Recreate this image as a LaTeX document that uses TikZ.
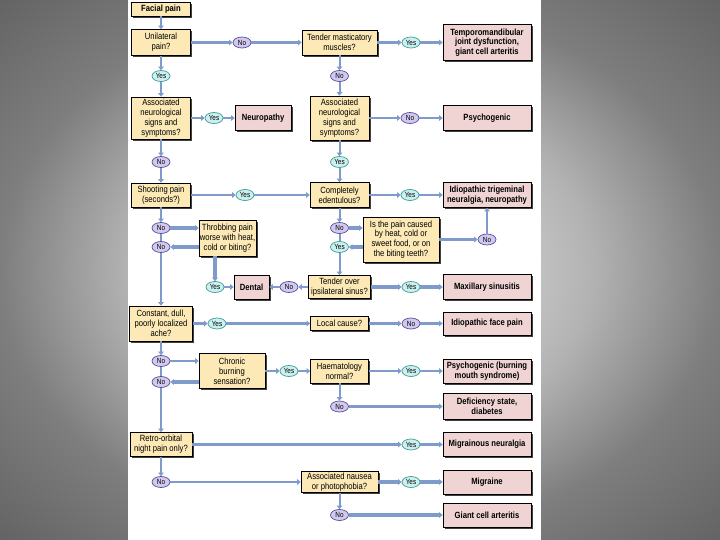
\documentclass[tikz,border=0pt]{standalone}
\usepackage{fontspec}
\setmainfont{Liberation Sans}[FakeStretch=0.85]
\usetikzlibrary{shapes.geometric,arrows.meta,shadows}
\definecolor{qfill}{HTML}{FCE9B6}
\definecolor{rfill}{HTML}{F0D4D4}
\definecolor{yfill}{HTML}{CBF0EE}
\definecolor{ydraw}{HTML}{3E9E98}
\definecolor{nfill}{HTML}{D2CAEE}
\definecolor{ndraw}{HTML}{5A4C9C}
\definecolor{lnk}{HTML}{7F9BCB}
\definecolor{bga}{HTML}{D2D2D2}
\definecolor{bgb}{HTML}{C0C0C0}
\definecolor{bgc}{HTML}{B2B2B2}
\definecolor{bgd}{HTML}{7E7E7E}
\definecolor{bge}{HTML}{626262}
\pgfdeclareradialshading{bgshade}{\pgfpoint{0bp}{0bp}}{color(0bp)=(bga); color(12.6bp)=(bgb); color(16.2bp)=(bgc); color(25bp)=(bgd); color(36bp)=(bge); color(50bp)=(bge)}
\begin{document}
\begin{tikzpicture}[x=1pt,y=-1pt,
  box/.style={draw=black, line width=0.7pt, align=center, inner sep=0.5pt,
    drop shadow={shadow xshift=1.8pt, shadow yshift=-1.8pt, fill=black!75, opacity=1}},
  q/.style={box, fill=qfill, font=\fontsize{9}{9.8}\selectfont},
  r/.style={box, fill=rfill, font=\fontsize{9}{9.8}\selectfont\bfseries},
  yes/.style={ellipse, draw=ydraw, fill=yfill, line width=0.7pt, minimum width=18pt, minimum height=11pt, inner sep=0pt, font=\fontsize{7.5}{7.5}\selectfont},
  no/.style={ellipse, draw=ndraw, fill=nfill, line width=0.7pt, minimum width=18pt, minimum height=11pt, inner sep=0pt, font=\fontsize{7.5}{7.5}\selectfont},
  lk/.style={draw=lnk, -{Triangle[length=3.5pt,width=5.5pt]}},
  thn/.style={lk, line width=2pt},
  med/.style={lk, line width=2.8pt},
  thk/.style={lk, line width=3.8pt},
  plain/.style={draw=lnk, line width=2pt}
]
\shade[shading=bgshade] (0,0) rectangle (720,540);
\useasboundingbox (0,0) rectangle (720,540);
\fill[white] (128,0) rectangle (541,540);

% question boxes
\node[q, font=\fontsize{9}{9.8}\selectfont\bfseries, minimum width=59pt, minimum height=14pt] (fp) at (161,9) {Facial pain};
\node[q, minimum width=59pt, minimum height=26pt] (uni) at (161,42.5) {Unilateral\\pain?};
\node[q, minimum width=75pt, minimum height=25pt] (tmm) at (339.5,42.5) {Tender masticatory\\muscles?};
\node[q, minimum width=59pt, minimum height=42pt] (an1) at (161,118) {Associated\\neurological\\signs and\\symptoms?};
\node[q, minimum width=59pt, minimum height=44pt] (an2) at (339.5,118) {Associated\\neurological\\signs and\\symptoms?};
\node[q, minimum width=59pt, minimum height=24pt] (sp) at (161,195) {Shooting pain\\(seconds?)};
\node[q, minimum width=59pt, minimum height=25pt] (ce) at (339.5,195) {Completely\\edentulous?};
\node[q, minimum width=57pt, minimum height=36pt] (thr) at (227.5,238) {Throbbing pain\\worse with heat,\\cold or biting?};
\node[q, minimum width=76pt, minimum height=45pt] (ipc) at (401,239.5) {Is the pain caused\\by heat, cold or\\sweet food, or on\\the biting teeth?};
\node[q, minimum width=62pt, minimum height=23pt] (tos) at (339.5,287) {Tender over\\ipsilateral sinus?};
\node[q, minimum width=63pt, minimum height=35pt] (cdp) at (161,323.5) {Constant, dull,\\poorly localized\\ache?};
\node[q, minimum width=58pt, minimum height=14pt] (lc) at (339.5,323.5) {Local cause?};
\node[q, minimum width=66pt, minimum height=35pt] (cbs) at (232,371) {Chronic\\burning\\sensation?};
\node[q, minimum width=58pt, minimum height=24pt] (hn) at (339.5,371) {Haematology\\normal?};
\node[q, minimum width=62pt, minimum height=24pt] (ro) at (161,444.5) {Retro-orbital\\night pain only?};
\node[q, minimum width=77pt, minimum height=21pt] (anp) at (339.5,482) {Associated nausea\\or photophobia?};

% result boxes
\node[r, minimum width=88pt, minimum height=36pt] (tmj) at (487,42.5) {Temporomandibular\\joint dysfunction,\\giant cell arteritis};
\node[r, minimum width=56pt, minimum height=25pt] (neu) at (263,118) {Neuropathy};
\node[r, minimum width=88pt, minimum height=25pt] (psy) at (487,118) {Psychogenic};
\node[r, minimum width=88pt, minimum height=25pt] (itn) at (487,195) {Idiopathic trigeminal\\neuralgia, neuropathy};
\node[r, minimum width=35pt, minimum height=24pt] (den) at (251.5,287) {Dental};
\node[r, minimum width=88pt, minimum height=25pt] (max) at (487,287) {Maxillary sinusitis};
\node[r, minimum width=88pt, minimum height=23pt] (ifp) at (487,323.5) {Idiopathic face pain};
\node[r, minimum width=88pt, minimum height=24pt] (pbm) at (487,371) {Psychogenic (burning\\mouth syndrome)};
\node[r, minimum width=88pt, minimum height=26pt] (def) at (487,406.5) {Deficiency state,\\diabetes};
\node[r, minimum width=88pt, minimum height=24pt] (mn) at (487,444.5) {Migrainous neuralgia};
\node[r, minimum width=88pt, minimum height=24pt] (mig) at (487,482) {Migraine};
\node[r, minimum width=88pt, minimum height=24pt] (gca) at (487,515) {Giant cell arteritis};

% ovals
\node[yes] (y1) at (161,76) {Yes};
\node[no] (n1) at (242,42.5) {No};
\node[yes] (y2) at (214,118) {Yes};
\node[no] (n2) at (161,162) {No};
\node[yes] (y3) at (411,42.5) {Yes};
\node[no] (n3) at (339.5,76) {No};
\node[no] (n4) at (410,118) {No};
\node[yes] (y4) at (339.5,162) {Yes};
\node[yes] (y5) at (245,195) {Yes};
\node[yes] (y6) at (410,195) {Yes};
\node[no] (n5) at (161,228) {No};
\node[no] (n6) at (161,247) {No};
\node[no] (n7) at (339.5,228) {No};
\node[yes] (y7) at (339.5,247) {Yes};
\node[no] (n8) at (487,239.5) {No};
\node[yes] (y8) at (215,287) {Yes};
\node[no] (n9) at (289,287) {No};
\node[yes] (y9) at (411,287) {Yes};
\node[yes] (y10) at (217,323.5) {Yes};
\node[no] (n10) at (411,323.5) {No};
\node[no] (n11) at (161,361) {No};
\node[no] (n12) at (161,382) {No};
\node[yes] (y11) at (289,371) {Yes};
\node[yes] (y12) at (411,371) {Yes};
\node[no] (n13) at (339.5,406.5) {No};
\node[yes] (y13) at (411,444.5) {Yes};
\node[no] (n14) at (161,482) {No};
\node[yes] (y14) at (411,482) {Yes};
\node[no] (n15) at (339.5,515) {No};

% connectors
\draw[thn] (fp) -- (uni);
\draw[thk] (uni) -- (n1);
\draw[thk] (n1) -- (tmm);
\draw[thn] (uni) -- (y1);
\draw[thn] (y1) -- (an1);
\draw[thk] (tmm) -- (y3);
\draw[thk] (y3) -- (tmj);
\draw[thn] (tmm) -- (n3);
\draw[thn] (n3) -- (an2);
\draw[med] (an1) -- (y2);
\draw[med] (y2) -- (neu);
\draw[med] (an2) -- (n4);
\draw[med] (n4) -- (psy);
\draw[thn] (an1) -- (n2);
\draw[thn] (n2) -- (sp);
\draw[thn] (an2) -- (y4);
\draw[thn] (y4) -- (ce);
\draw[med] (sp) -- (y5);
\draw[med] (y5) -- (ce);
\draw[med] (ce) -- (y6);
\draw[med] (y6) -- (itn);
\draw[thn] (sp) -- (n5);
\draw[plain] (n5) -- (n6);
\draw[thn] (n6) -- (cdp);
\draw[thk] (n5) -- (n5 -| thr.west);
\draw[thk] (n6 -| thr.west) -- (n6);
\draw[thk] (thr.south -| y8) -- (y8);
\draw[med] (y8) -- (den);
\draw[thn] (ce) -- (n7);
\draw[plain] (n7) -- (y7);
\draw[thn] (y7) -- (tos);
\draw[thk] (n7) -- (n7 -| ipc.west);
\draw[thk] (y7 -| ipc.west) -- (y7);
\draw[med] (ipc) -- (n8);
\draw[med] (n8) -- (itn);
\draw[med] (tos) -- (n9);
\draw[med] (n9) -- (den);
\draw[thk] (tos) -- (y9);
\draw[thk] (y9) -- (max);
\draw[med] (cdp) -- (y10);
\draw[med] (y10) -- (lc);
\draw[med] (lc) -- (n10);
\draw[med] (n10) -- (ifp);
\draw[thn] (cdp) -- (n11);
\draw[plain] (n11) -- (n12);
\draw[thn] (n12) -- (ro);
\draw[med] (n11) -- (n11 -| cbs.west);
\draw[thk] (n12 -| cbs.west) -- (n12);
\draw[med] (cbs) -- (y11);
\draw[med] (y11) -- (hn);
\draw[med] (hn) -- (y12);
\draw[med] (y12) -- (pbm);
\draw[thn] (hn) -- (n13);
\draw[thk] (n13) -- (def);
\draw[thk] (ro) -- (y13);
\draw[thk] (y13) -- (mn);
\draw[thn] (ro) -- (n14);
\draw[med] (n14) -- (anp);
\draw[thk] (anp) -- (y14);
\draw[thk] (y14) -- (mig);
\draw[thn] (anp) -- (n15);
\draw[thk] (n15) -- (gca);
\end{tikzpicture}
\end{document}
